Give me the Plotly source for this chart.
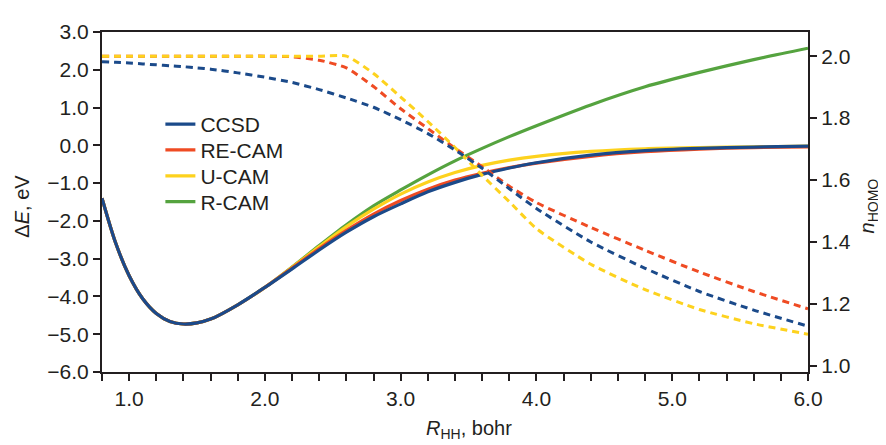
import plotly.graph_objects as go

# ---- data ----
R = [0.8, 0.9, 1.0, 1.1, 1.2, 1.3, 1.4, 1.5, 1.6, 1.8, 2.0, 2.2, 2.4, 2.6,
     2.8, 3.0, 3.2, 3.4, 3.6, 3.8, 4.0, 4.4, 4.8, 5.2, 5.6, 6.0]

# Delta E, eV (left axis, solid)
dE_ccsd = [-1.40, -2.58, -3.45, -4.06, -4.45, -4.66, -4.73, -4.70, -4.60, -4.22, -3.76,
           -3.27, -2.77, -2.30, -1.89, -1.55, -1.23, -0.98, -0.77, -0.60, -0.46,
           -0.26, -0.14, -0.08, -0.045, -0.02]
dE_recam = [-1.40, -2.58, -3.45, -4.06, -4.45, -4.66, -4.73, -4.70, -4.60, -4.22, -3.76,
            -3.25, -2.73, -2.25, -1.82, -1.46, -1.16, -0.92, -0.74, -0.59, -0.47,
            -0.29, -0.17, -0.10, -0.06, -0.04]
dE_ucam = [-1.40, -2.58, -3.45, -4.06, -4.45, -4.66, -4.73, -4.70, -4.60, -4.22, -3.76,
           -3.23, -2.68, -2.15, -1.69, -1.29, -0.97, -0.72, -0.53, -0.39, -0.29,
           -0.16, -0.09, -0.06, -0.04, -0.02]
dE_rcam = [-1.40, -2.58, -3.45, -4.06, -4.45, -4.66, -4.73, -4.70, -4.60, -4.22, -3.76,
           -3.22, -2.65, -2.10, -1.60, -1.18, -0.78, -0.41, -0.08, 0.23, 0.52,
           1.07, 1.55, 1.93, 2.27, 2.57]

# n_HOMO (right axis, dashed)
n_ccsd = [1.982, 1.980, 1.978, 1.975, 1.972, 1.969, 1.966, 1.962, 1.958, 1.946, 1.932,
          1.915, 1.892, 1.865, 1.835, 1.795, 1.750, 1.697, 1.638, 1.572, 1.508,
          1.400, 1.315, 1.240, 1.180, 1.128]
n_recam = [2.000, 2.000, 2.000, 2.000, 2.000, 2.000, 2.000, 2.000, 2.000, 2.000, 2.000,
           1.998, 1.987, 1.962, 1.902, 1.830, 1.766, 1.703, 1.643, 1.580, 1.527,
           1.447, 1.373, 1.303, 1.240, 1.184]
n_ucam = [2.000, 2.000, 2.000, 2.000, 2.000, 2.000, 2.000, 2.000, 2.000, 2.000, 2.000,
          2.000, 2.000, 2.000, 1.944, 1.868, 1.789, 1.705, 1.615, 1.530, 1.443,
          1.328, 1.246, 1.182, 1.136, 1.102]

names = ["CCSD", "RE-CAM", "U-CAM", "R-CAM"]
colors = {"CCSD": "#1b4a8a", "RE-CAM": "#ef4b23", "U-CAM": "#fdd21e", "R-CAM": "#55a33f"}

x_ticks = [round(0.8 + 0.2 * i, 1) for i in range(27)]
x_ticktext = [f"{v:.1f}" if abs(v - round(v)) < 1e-9 else "" for v in x_ticks]
y_ticks = [3, 2, 1, 0, -1, -2, -3, -4, -5, -6]
y_ticktext = [f"{v:.1f}".replace("-", "\u2212") for v in y_ticks]
n_ticks = [1.0, 1.2, 1.4, 1.6, 1.8, 2.0]
n_ticktext = [f"{v:.1f}" for v in n_ticks]

ink = "#231f20"
font = "Liberation Sans, Arial, sans-serif"

fig = go.Figure()

# dashed n_HOMO curves
for nm, vals in [("RE-CAM", n_recam), ("U-CAM", n_ucam), ("CCSD", n_ccsd)]:
    fig.add_trace(go.Scatter(x=R, y=vals, yaxis="y2", mode="lines", showlegend=False,
                             line=dict(color=colors[nm], width=3, dash="7px,5px",
                                       shape="spline", smoothing=0.6),
                             hoverinfo="skip"))

# solid energy curves, each with its own legend row
legend_ids = {"CCSD": "legend", "RE-CAM": "legend2", "U-CAM": "legend3", "R-CAM": "legend4"}
for nm, vals in [("R-CAM", dE_rcam), ("U-CAM", dE_ucam),
                 ("RE-CAM", dE_recam), ("CCSD", dE_ccsd)]:
    fig.add_trace(go.Scatter(x=R, y=vals, mode="lines", name=nm, legend=legend_ids[nm],
                             line=dict(color=colors[nm], width=3.2, shape="spline",
                                       smoothing=0.8)))

row_y = [0.728, 0.652, 0.576, 0.500]
leg_common = dict(x=0.0827, xanchor="left", yanchor="middle",
                  bgcolor="rgba(0,0,0,0)", font=dict(size=21, color=ink), itemwidth=30)
legends = {}
for key, yy in zip(["legend", "legend2", "legend3", "legend4"], row_y):
    legends[key] = dict(leg_common, y=yy)

fig.update_layout(
    width=886, height=445,
    margin=dict(l=94, r=86, t=15, b=81),
    paper_bgcolor="white", plot_bgcolor="white",
    font=dict(family=font, size=21, color=ink),
    showlegend=True,
    **legends,
    xaxis=dict(range=[0.8, 6.0], tickmode="array", tickvals=x_ticks, ticktext=x_ticktext,
               ticks="outside", ticklen=7, tickwidth=2, tickcolor=ink,
               showline=True, linewidth=2, linecolor=ink, mirror=True,
               showgrid=False, zeroline=False, tickfont=dict(size=21)),
    yaxis=dict(range=[-6, 3], tickmode="array", tickvals=y_ticks, ticktext=y_ticktext,
               ticks="outside", ticklen=7, tickwidth=2, tickcolor=ink,
               showline=True, linewidth=2, linecolor=ink,
               showgrid=False, zeroline=False, tickfont=dict(size=21)),
    yaxis2=dict(range=[0.98, 2.078], overlaying="y", side="right", tickmode="array",
                tickvals=n_ticks, ticktext=n_ticktext,
                ticks="outside", ticklen=7, tickwidth=2, tickcolor=ink,
                showline=True, linewidth=2, linecolor=ink,
                showgrid=False, zeroline=False, tickfont=dict(size=21)),
    annotations=[
        dict(text="<i>R</i><sub>HH</sub>, bohr", xref="paper", yref="paper",
             x=0.52, y=-0.168, xanchor="center", yanchor="middle", showarrow=False,
             font=dict(size=20, color=ink)),
        dict(text="\u0394<i>E</i>, eV", xref="paper", yref="paper",
             x=-0.113, y=0.487, xanchor="center", yanchor="middle", showarrow=False,
             textangle=-90, font=dict(size=20, color=ink)),
        dict(text="<i>n</i><sub>HOMO</sub>", xref="paper", yref="paper",
             x=1.085, y=0.487, xanchor="center", yanchor="middle", showarrow=False,
             textangle=-90, font=dict(size=20, color=ink)),
    ],
)

fig.write_html("out.html")
